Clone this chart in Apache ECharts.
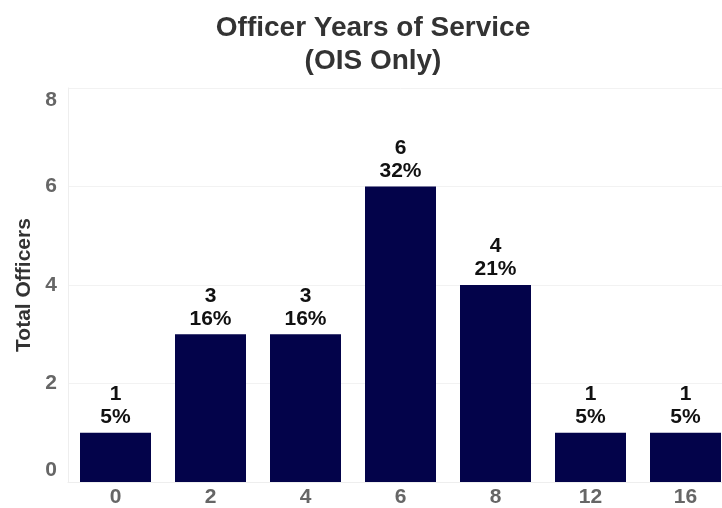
<!DOCTYPE html>
<html>
<head>
<meta charset="utf-8">
<script src="https://cdn.jsdelivr.net/npm/echarts@6/dist/echarts.min.js"></script>
<style>
  html, body { margin: 0; padding: 0; background: #fff; overflow: hidden; }
  #chart { width: 745px; height: 508px; }
</style>
</head>
<body>
<div id="chart"></div>
<script>
const years = ['0', '2', '4', '6', '8', '12', '16'];
const officers = [1, 3, 3, 6, 4, 1, 1];
const shares = ['5%', '16%', '16%', '32%', '21%', '5%', '5%'];

const myChart = echarts.init(document.getElementById('chart'));
myChart.setOption({
  animation: false,
  textStyle: { fontFamily: 'Liberation Sans, Arial, sans-serif' },
  title: {
    text: 'Officer Years of Service\n(OIS Only)',
    left: 368,
    textAlign: 'center',
    top: 7,
    textStyle: { fontSize: 28, fontWeight: 'bold', color: '#333', lineHeight: 33 },
  },
  grid: { left: 68, top: 88, width: 665, height: 394 },
  xAxis: {
    type: 'category',
    data: years,
    axisLine: { show: true, lineStyle: { color: '#eee' } },
    axisTick: { show: false },
    axisLabel: { color: '#666', fontSize: 21, fontWeight: 'bold', margin: 5 },
  },
  yAxis: {
    type: 'value',
    min: 0,
    max: 8,
    interval: 2,
    name: 'Total Officers',
    nameLocation: 'middle',
    nameGap: 31,
    nameTextStyle: { color: '#333', fontSize: 21, fontWeight: 'bold' },
    axisLine: { show: true, lineStyle: { color: '#eee' } },
    axisTick: { show: false },
    splitLine: { lineStyle: { color: '#f2f2f2' } },
    axisLabel: {
      color: '#666',
      fontSize: 21,
      fontWeight: 'bold',
      margin: 11,
      formatter: (v) => (v === 8 ? '{t|8}' : v === 0 ? '{b|0}' : String(v)),
      rich: {
        t: { fontSize: 21, fontWeight: 'bold', color: '#666', padding: [24, 0, 0, 0] },
        b: { fontSize: 21, fontWeight: 'bold', color: '#666', padding: [0, 0, 24, 0] },
      },
    },
  },
  series: [
    {
      type: 'bar',
      data: officers,
      barWidth: 71,
      itemStyle: { color: '#03034a' },
      label: {
        show: true,
        position: 'top',
        distance: 4,
        color: '#111',
        fontSize: 21,
        fontWeight: 'bold',
        lineHeight: 23,
        formatter: (p) => p.value + '\n' + shares[p.dataIndex],
      },
    },
  ],
});
</script>
</body>
</html>
